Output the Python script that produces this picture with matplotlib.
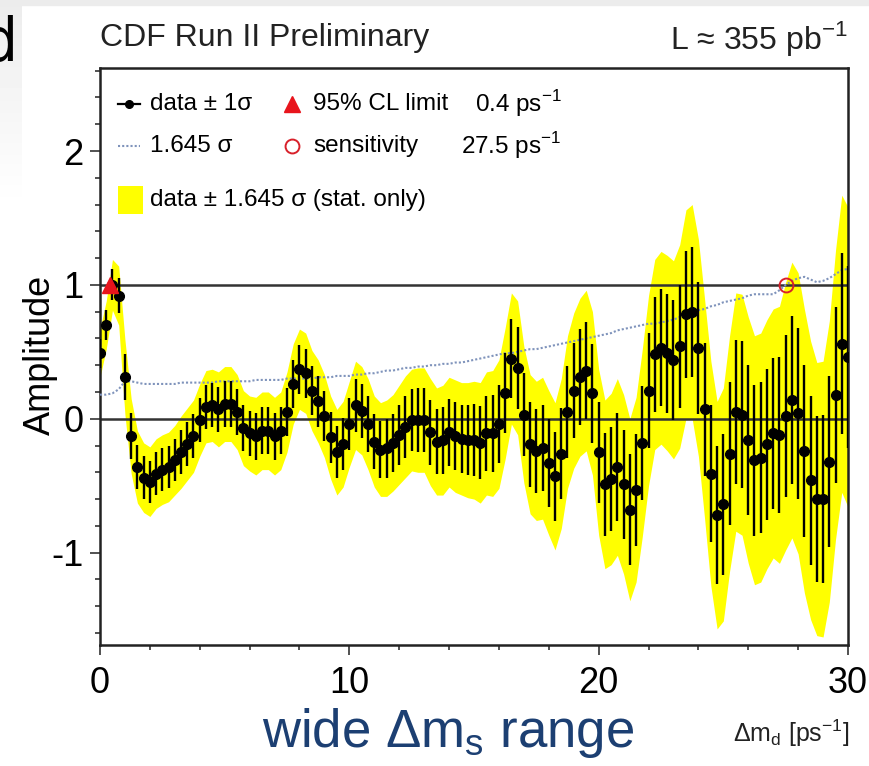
import numpy as np
import matplotlib
matplotlib.use('Agg')
import matplotlib.pyplot as plt
from matplotlib.patches import Rectangle

plt.rcParams['font.family'] = ['Liberation Sans', 'DejaVu Sans']
plt.rcParams['mathtext.fontset'] = 'custom'
plt.rcParams['mathtext.rm'] = 'Liberation Sans'
plt.rcParams['axes.unicode_minus'] = False

# scan points in Delta m [ps^-1]
dm = np.arange(0, 30.01, 0.25)

# measured amplitude at each scan point
amp = [0.49, 0.70, 1.00, 0.92, 0.31, -0.13, -0.36, -0.44, -0.47, -0.41,
       -0.38, -0.36, -0.31, -0.25, -0.19, -0.13, -0.01, 0.09, 0.10, 0.07,
       0.11, 0.11, 0.05, -0.07, -0.11, -0.13, -0.09, -0.09, -0.13, -0.09,
       0.05, 0.26, 0.37, 0.34, 0.21, 0.13, 0.02, -0.14, -0.25, -0.19,
       -0.04, 0.10, 0.06, -0.04, -0.17, -0.23, -0.22, -0.18, -0.12, -0.06,
       -0.01, -0.01, -0.01, -0.10, -0.17, -0.16, -0.10, -0.13, -0.15, -0.16,
       -0.16, -0.18, -0.11, -0.11, -0.04, 0.19, 0.45, 0.38, 0.03, -0.19,
       -0.24, -0.22, -0.33, -0.43, -0.26, 0.05, 0.21, 0.31, 0.36, 0.19,
       -0.25, -0.49, -0.45, -0.36, -0.49, -0.68, -0.53, -0.18, 0.21, 0.48,
       0.53, 0.49, 0.44, 0.54, 0.78, 0.80, 0.53, 0.07, -0.41, -0.72,
       -0.64, -0.26, 0.05, 0.03, -0.16, -0.31, -0.29, -0.19, -0.11, -0.12,
       0.02, 0.14, 0.04, -0.24, -0.46, -0.60, -0.60, -0.32, 0.18, 0.56,
       0.46]

# 1.645 sigma (dotted line / half width of yellow band)
sig1645 = [0.18, 0.18, 0.19, 0.22, 0.28, 0.28, 0.27, 0.26, 0.26, 0.26,
           0.26, 0.26, 0.26, 0.27, 0.27, 0.27, 0.27, 0.27, 0.27, 0.28,
           0.28, 0.28, 0.28, 0.28, 0.28, 0.29, 0.29, 0.29, 0.29, 0.29,
           0.30, 0.30, 0.30, 0.30, 0.30, 0.31, 0.31, 0.31, 0.32, 0.32,
           0.32, 0.33, 0.33, 0.34, 0.34, 0.35, 0.36, 0.36, 0.37, 0.38,
           0.38, 0.39, 0.39, 0.40, 0.40, 0.41, 0.41, 0.42, 0.42, 0.43,
           0.44, 0.45, 0.46, 0.47, 0.48, 0.49, 0.49, 0.50, 0.51, 0.52,
           0.52, 0.53, 0.54, 0.55, 0.56, 0.57, 0.58, 0.59, 0.60, 0.61,
           0.62, 0.63, 0.64, 0.66, 0.67, 0.68, 0.69, 0.70, 0.71, 0.71,
           0.72, 0.73, 0.74, 0.76, 0.78, 0.80, 0.81, 0.82, 0.84, 0.85,
           0.87, 0.88, 0.89, 0.90, 0.92, 0.93, 0.93, 0.93, 0.93, 0.96,
           1.00, 1.03, 1.05, 1.06, 1.04, 1.02, 1.03, 1.05, 1.08, 1.11,
           1.12]

limit_dm = 0.4
sens_dm = 27.5

amp = np.array(amp)
sig1645 = np.array(sig1645)
sig = sig1645 / 1.645

fig = plt.figure(figsize=(8.7, 7.66), dpi=100)

# slide remnants: grey strip and corner
fig.patches.append(Rectangle((0, 1 - 5/766), 1, 5/766, transform=fig.transFigure,
                             color='#ececec', zorder=0))
gax = fig.add_axes([0, 1 - 210/766, 22/870, 210/766])
gax.imshow(np.linspace(0.925, 1.0, 50).reshape(-1, 1), cmap='gray', vmin=0, vmax=1,
           aspect='auto', extent=(0, 1, 0, 1))
gax.axis('off')
fig.text(-17/870, 1 - 44/766, 'd', fontsize=44, family='DejaVu Sans', va='center',
         ha='left', color='black', fontstretch='condensed', fontweight='light')

ax = fig.add_axes([100/870, 1 - 645/766, 748/870, 577/766])

ax.fill_between(dm, amp - sig1645, amp + sig1645, color='#ffff00', lw=0, zorder=1)
ax.axhline(0, color='#333333', lw=1.8, zorder=2)
ax.axhline(1, color='#333333', lw=1.8, zorder=2)
ax.plot(dm, sig1645, ls=(0, (1, 1)), color='#7f93bb', lw=1.5, zorder=3)
ax.errorbar(dm, amp, yerr=sig, fmt='o', color='black', ms=7, elinewidth=1.7,
            capsize=0, zorder=4)
ax.plot([limit_dm], [1.0], marker='^', color='#e8141c', ms=12, zorder=5, clip_on=False)
ax.plot([sens_dm], [1.0], marker='o', mfc='none', mec='#d8202a', ms=10, mew=1.4,
        zorder=5)

ax.set_xlim(0, 30)
ax.set_ylim(-1.69, 2.62)
ax.set_xticks([0, 10, 20, 30])
ax.set_xticks(np.arange(0, 31, 2), minor=True)
ax.set_yticks([-1, 0, 1, 2])
ax.set_yticks(np.arange(-1.6, 2.61, 0.2), minor=True)
ax.tick_params(which='both', direction='out', width=1.1, color='#222222',
               top=False, right=False, labelsize=26)
ax.tick_params(which='major', length=7)
ax.tick_params(which='minor', length=3.5)
ax.tick_params(axis='y', pad=5)
ax.tick_params(axis='x', pad=8)
for s in ax.spines.values():
    s.set_linewidth(1.8)
    s.set_color('#222222')

# legend drawn by hand
tr = ax.transAxes
fs = 17.5
r1, r2, r3 = 0.9376, 0.8648, 0.7712
ax.plot([0.024, 0.0535], [r1, r1], color='black', lw=1.6, transform=tr)
ax.plot([0.039], [r1], 'o', color='black', ms=5.5, transform=tr)
ax.text(0.067, r1, 'data ± 1σ', transform=tr, fontsize=fs, va='center')
ax.plot([0.2567], [r1], marker='^', color='#e8141c', ms=12, transform=tr)
ax.text(0.285, r1, '95% CL limit', transform=tr, fontsize=fs, va='center')
ax.text(0.617, r1, '0.4 ps$^{\\mathregular{-1}}$', transform=tr, fontsize=fs,
        va='center', ha='right')

ax.plot([0.024, 0.0535], [r2, r2], ls=(0, (1, 1)), color='#7f93bb', lw=1.5,
        transform=tr)
ax.text(0.067, r2, '1.645 σ', transform=tr, fontsize=fs, va='center')
ax.plot([0.2567], [r2], marker='o', mfc='none', mec='#d8202a', ms=10, mew=1.4,
        transform=tr)
ax.text(0.285, r2, 'sensitivity', transform=tr, fontsize=fs, va='center')
ax.text(0.617, r2, '27.5 ps$^{\\mathregular{-1}}$', transform=tr, fontsize=fs,
        va='center', ha='right')

ax.add_patch(Rectangle((0.024, r3 - 0.0243), 0.0334, 0.0485, transform=tr,
                       color='#ffff00', lw=0))
ax.text(0.067, r3, 'data ± 1.645 σ (stat. only)', transform=tr,
        fontsize=fs, va='center')

# labels around the frame
fig.text(40/870, 1 - 355/766, 'Amplitude', rotation=90, fontsize=26,
         va='center', ha='center')
fig.text(100/870, 1 - 38/766, 'CDF Run II Preliminary', fontsize=23, va='center',
         color='#222222')
fig.text(848/870, 1 - 39/766, 'L ≈ 355 pb$^{\\mathregular{-1}}$', fontsize=23,
         va='center', ha='right', color='#222222')
fig.text(448/870, 1 - 733/766, 'wide Δm$_{\\mathregular{s}}$ range',
         fontsize=38, color='#1c3f72', va='center', ha='center')
fig.text(850/870, 1 - 733/766, 'Δm$_{\\mathregular{d}}$ [ps$^{\\mathregular{-1}}$]',
         fontsize=18, va='center', ha='right', color='#222222')

fig.savefig('out.png', dpi=100)
